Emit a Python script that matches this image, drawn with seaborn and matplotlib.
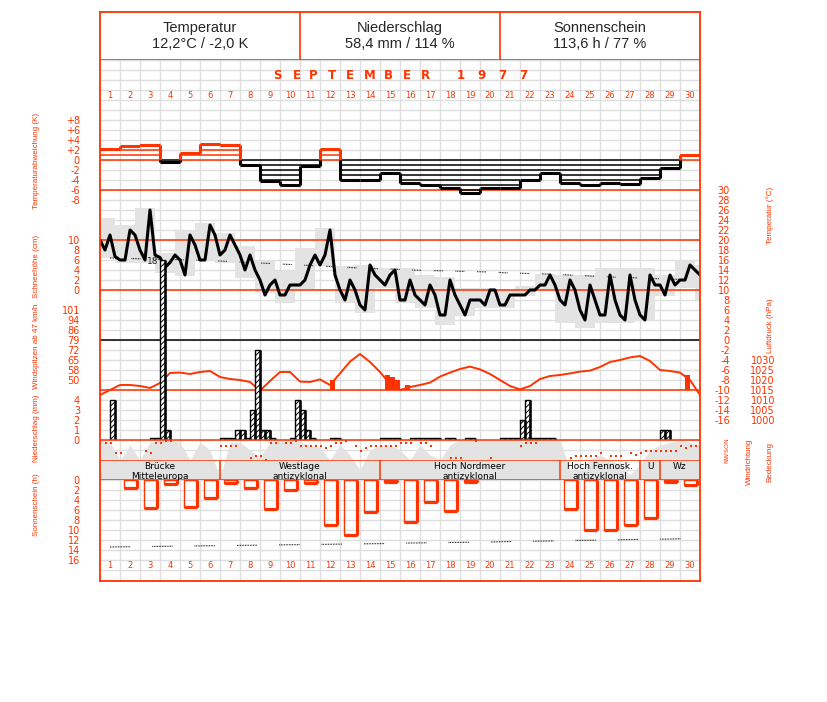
import matplotlib
matplotlib.use("Agg")
import matplotlib.pyplot as plt
import matplotlib.transforms as mtransforms
import seaborn as sns
import numpy as np

sns.set_theme(style="white")
plt.rcParams['font.family'] = ['DejaVu Sans']
plt.rcParams['hatch.linewidth'] = 0.7

RED = '#ff3300'
GRID = '#dedede'
SHADE = '#e3e3e3'
ARIAL = ['Liberation Sans', 'DejaVu Sans']

days = np.arange(1, 31)

# daily temperature anomaly (K)
temp_anom = [2.3, 2.8, 3.1, -0.3, 1.5, 3.3, 3.0, -0.9, -4.2, -5.0,
             -1.1, 2.3, -4.0, -3.9, -2.5, -4.5, -5.1, -5.7, -6.6, -5.6,
             -5.6, -3.9, -2.5, -4.5, -4.9, -4.5, -4.8, -3.5, -1.5, 1.0]

# temperature, four readings per day (deg C)
temp_obs = [20, 18, 21, 16.7, 16, 16, 22, 21, 18, 16,
            26, 17, 16.5, 14.5, 15.5, 17, 16, 13, 21, 19,
            16, 16, 23, 21, 17, 18, 21, 19, 17, 14,
            17, 14, 12, 9, 11, 12, 9, 9, 11, 11,
            11, 12, 15, 17, 15, 17, 22, 13, 10, 8,
            12, 10, 7, 6, 15, 13, 12, 11, 13, 14,
            8, 8, 12, 9, 8, 7, 11, 9, 5, 5,
            12, 9, 7, 5, 8, 8, 8, 7, 10, 10,
            7, 7, 9, 9, 9, 9, 10, 10, 11, 11,
            13, 11, 8, 7, 12, 10, 6, 4, 11, 8,
            5, 5, 13, 8, 5, 4, 13, 8, 5, 4,
            13, 11, 11, 9, 13, 11, 12, 12, 15, 14, 13]

# daily max / min (21h to 21h)
temp_max = [24.3, 23, 26.3, 17.3, 22, 23.3, 21.3, 18.7, 15.7, 13.7, 18.3,
            22.3, 14.7, 15, 14.3, 14.3, 13, 12.5, 10.3, 10.3, 9.7,
            10.8, 13.2, 13, 13, 14.3, 14.3, 14.3, 13, 15.7, 15]
temp_min = [16.3, 15.3, 15.3, 13.3, 12.7, 15.7, 15.3, 12.3, 9.3, 7.3, 10,
            14.7, 7.3, 5.3, 10.3, 7.3, 6.3, 3, 4.7, 6.3, 6.3,
            8.7, 10, 3.3, 2.3, 3.3, 3.3, 3.7, 8.7, 10.3, 8]

# long-term mean temperature
temp_normal = [16.4, 16.3, 16.2, 16.1, 16.0, 15.9, 15.7, 15.5, 15.3, 15.1,
               14.9, 14.7, 14.5, 14.3, 14.2, 14.0, 13.9, 13.8, 13.7, 13.6,
               13.4, 13.3, 13.2, 13.0, 12.8, 12.6, 12.5, 12.3, 12.2, 12.0]

# precipitation per quarter-day slot (mm)
precip_slot = [2, 10, 11, 12, 13, 24, 25, 26, 27, 28, 29, 30, 31, 32, 33, 34,
               38, 39, 40, 41, 42, 46, 47, 56, 57, 58, 59, 62, 63, 64, 65, 66,
               67, 69, 70, 73, 74, 80, 81, 82, 83, 84, 85, 86, 87, 88, 89, 90,
               112, 113]
precip_mm = [4.0, 0.2, 0.2, 18.0, 1.0, 0.2, 0.2, 0.2, 1.0, 1.0, 0.2, 3.0, 9.0, 1.0, 1.0, 0.2,
             0.2, 4.0, 3.0, 1.0, 0.2, 0.2, 0.2, 0.2, 0.2, 0.2, 0.2, 0.2, 0.2, 0.2, 0.2, 0.2,
             0.2, 0.2, 0.2, 0.2, 0.2, 0.2, 0.2, 0.2, 0.2, 2.0, 4.0, 0.2, 0.2, 0.2, 0.2, 0.2,
             1.0, 1.0]

# air pressure, two values per day (hPa)
pressure_hpa = [1012.5, 1015, 1017.5, 1017.5, 1017, 1016, 1018.5, 1023.5, 1023.7, 1023,
                1024, 1024.5, 1021.5, 1020.5, 1020, 1019, 1014.7, 1019.5, 1024, 1024,
                1019.2, 1019, 1020.3, 1017.5, 1023.3, 1029.2, 1033, 1029, 1024, 1018,
                1015, 1016.5, 1017.5, 1018.7, 1021.7, 1023.7, 1025.5, 1026.7, 1025.3, 1023,
                1020, 1017, 1015.3, 1017, 1020.5, 1022, 1022.5, 1023.3, 1024.2, 1024.7,
                1026.5, 1029, 1030, 1031.3, 1032, 1029.5, 1025, 1024.5, 1023.7, 1020,
                1012.5]

# wind gusts above 47 km/h (quarter-day slot)
gust_slot = [46, 57, 58, 59, 61, 117]
gust_kmh = [50, 53.6, 52, 50, 46.4, 53.6]

# wind direction (deg), quarter-day slots, None = no reading
wind_dir = [None, 45, 45, 225, 225, None, None, None, None, 190,
            225, 45, 45, 10, 10, None, None, None, None, None,
            None, None, None, None, 100, 100, 100, 100, None, None,
            315, 280, 280, 360, 45, 45, None, 45, 45, 20,
            100, 100, 100, 100, 100, 140, 100, 45, 45, 10,
            None, 100, 190, 140, 100, 100, 100, 100, 100, 100,
            45, 45, 45, None, 45, 45, 100, None, None, None,
            315, 315, 315, None, None, 10, None, None, 315, None,
            None, None, None, None, 100, 45, 45, 45, None, None,
            None, None, None, None, 315, 280, 280, 280, 280, 280,
            225, None, 280, 280, 280, None, 225, 270, 225, 190,
            190, 190, 190, 190, 190, 190, 100, 140, 100, 100]

# cloud cover (okta), two values per day
cloud_okta = [8, 7.5, 4, 7, 4, 7.5, 8, 8, 7.5, 4,
              7.5, 6, 0.5, 7.5, 7.5, 6, 4.5, 7.5, 8, 8,
              7.5, 7, 6.5, 4, 7, 5, 2, 6, 7, 7,
              6, 4, 7, 5, 4, 7, 8, 8, 8, 8,
              8, 8, 8, 8, 8, 8, 8, 2, 2, 4,
              5, 4, 3, 1, 3, 6, 7, 7.5, 8, 7.5, 7]

# sunshine duration (h) and astronomically possible sunshine
sunshine_h = [0, 1.5, 5.5, 0.8, 5.3, 3.5, 0.5, 1.5, 5.7, 1.9,
              0.5, 9.0, 10.9, 6.3, 0.3, 8.3, 4.3, 6.2, 0.3, 0,
              0, 0, 0, 5.7, 10.0, 9.9, 8.9, 7.6, 0.3, 0.9]
sunshine_max = [13.4, 13.35, 13.3, 13.25, 13.2, 13.15, 13.1, 13.05, 13.0, 12.95,
                12.9, 12.85, 12.8, 12.75, 12.7, 12.6, 12.55, 12.5, 12.45, 12.4,
                12.3, 12.25, 12.2, 12.1, 12.05, 12.0, 11.9, 11.85, 11.8, 11.7]

# Grosswetterlagen
wt_names = ['Brücke\nMitteleuropa', 'Westlage\nantizyklonal', 'Hoch Nordmeer\nantizyklonal',
            'Hoch Fennosk.\nantizyklonal', 'U', 'Wz']
wt_start = [1, 7, 15, 24, 28, 29]
wt_end = [6, 14, 23, 27, 28, 30]

header_titles = ['Temperatur', 'Niederschlag', 'Sonnenschein']
header_values = ['12,2°C / -2,0 K', '58,4 mm / 114 %', '113,6 h / 77 %']

# ---------------------------------------------------------------
W, H = 827, 702
fig = plt.figure(figsize=(W / 100, H / 100), dpi=100)
fig.patch.set_facecolor('white')


def layer(top, bottom, vtop, vbot):
    ax = fig.add_axes([100 / W, 1 - bottom / H, 600 / W, (bottom - top) / H])
    ax.set_xlim(0.5, 30.5)
    ax.set_ylim(vbot, vtop)
    ax.patch.set_visible(False)
    for s in ax.spines.values():
        s.set_visible(False)
    ax.set_xticks([])
    ax.set_yticks([])
    ax.grid(False)
    return ax


def left_ticks(ax, vals, labels):
    ax.set_yticks(vals, labels)
    ax.tick_params(axis='y', left=False, labelleft=True, pad=14.4,
                   labelsize=7, labelcolor=RED, length=0)


def right_ticks(ax, vals, labels, pad_px, ha='right', size=7, rot=0):
    ax.set_yticks(vals, labels)
    ax.tick_params(axis='y', left=False, labelleft=False, right=False, labelright=True,
                   pad=pad_px * 0.72, labelsize=size, labelcolor=RED, length=0,
                   labelrotation=rot)
    for t in ax.get_yticklabels():
        t.set_horizontalalignment(ha)


def fy(py):
    return 1 - py / H


# background grid
bg = layer(60, 580, 52, 0)
bg.hlines(np.arange(53), 0.5, 30.5, color=GRID, lw=1, zorder=0)
bg.vlines(np.arange(0.5, 31), 0, 52, color=GRID, lw=1, zorder=0)

# header
hd = layer(12, 60, 1, 0)
hd.axvline(10.5, color=RED, lw=1.2)
hd.axvline(20.5, color=RED, lw=1.2)
hd.axhline(0, color=RED, lw=1.2)
for k in range(3):
    hd.text(5.5 + 10 * k, 0.5, header_titles[k] + '\n' + header_values[k],
            ha='center', va='center', fontsize=10.5, family=ARIAL, linespacing=1.15)

# temperature (right axis), snow scale, normals
tp = layer(180, 440, 32, -20)
tmax = np.array(temp_max)
tmin = np.array(temp_min)
tp.bar(np.arange(31) + 0.75, tmax - tmin, bottom=tmin, width=1.0, color=SHADE, lw=0, zorder=1)
tp.plot(days, temp_normal, color='black', lw=0.8, zorder=2,
        ls=(0, [0.7, 0.75] * 5 + [0.7, 11.5]))
for lvl in [30, 20, 10, -10]:
    tp.axhline(lvl, color=RED, lw=1.1, zorder=2.5)
tp.axhline(0, color='black', lw=1.1, zorder=2.5)
t_x = 0.5 + 0.25 * np.arange(len(temp_obs))
sns.lineplot(x=t_x, y=temp_obs, ax=tp, color='black', lw=2.2, estimator=None, zorder=3)
right_ticks(tp, list(range(30, -17, -2)), [str(v) for v in range(30, -17, -2)], 30)
tp.set_ylim(-20, 32)
tp.set_xlim(0.5, 30.5)
tp.set_xlabel('')
tp.set_ylabel('')

sn = layer(230, 290, 12, 0)
left_ticks(sn, [10, 8, 6, 4, 2, 0], ['10', '8', '6', '4', '2', '0'])

# temperature anomaly
an = layer(110, 200, 10, -8)
anom = np.array(temp_anom)
for d, v in zip(days, anom):
    col = RED if v > 0 else 'black'
    lv = np.sign(v) * np.arange(0, int(np.floor(abs(v))) + 1)
    an.hlines(lv, d - 0.5, d + 0.5, color=col, lw=1.1)
    an.hlines(v, d - 0.5, d + 0.5, color=col, lw=2.2)
for i in range(1, 30):
    a, b = anom[i - 1], anom[i]
    lo, hi = min(a, b), max(a, b)
    if hi > 0:
        an.vlines(i + 0.5, max(lo, 0), hi, color=RED, lw=2.2)
    if lo < 0:
        an.vlines(i + 0.5, lo, min(hi, 0), color='black', lw=2.2)
left_ticks(an, [8, 6, 4, 2, 0, -2, -4, -6, -8],
           ['+8', '+6', '+4', '+2', '0', '-2', '-4', '-6', '-8'])

# pressure
pr = layer(340, 440, 1040, 990)
p_x = 0.5 + 0.5 * np.arange(len(pressure_hpa))
sns.lineplot(x=p_x, y=pressure_hpa, ax=pr, color=RED, lw=1.4, estimator=None)
pr.set_ylim(990, 1040)
pr.set_xlim(0.5, 30.5)
pr.set_xlabel('')
pr.set_ylabel('')
right_ticks(pr, [1030, 1025, 1020, 1015, 1010, 1005, 1000],
            ['1030', '1025', '1020', '1015', '1010', '1005', '1000'], 75)

# wind gusts
g_lo = 50 - 10 * 51 / 70
gs = layer(300, 390, 50 + 80 * 51 / 70, g_lo)
g_x = 0.5 + 0.25 * np.array(gust_slot) + 0.125
gs.bar(g_x, np.array(gust_kmh) - g_lo, bottom=g_lo, width=0.27, color=RED, lw=0)
left_ticks(gs, np.linspace(50, 101, 8), ['50', '58', '65', '72', '79', '86', '94', '101'])

# precipitation
pc = layer(250, 440, 19, 0)
pcx = 0.5 + 0.25 * np.array(precip_slot) + 0.125
pc.bar(pcx, precip_mm, width=0.28, color='white', edgecolor='black', hatch='//////', lw=1.0)
pc.vlines(pcx + 0.13, 0, precip_mm, color='black', lw=1.8)
imax = int(np.argmax(precip_mm))
pc.annotate(f'{precip_mm[imax]:.0f}', xy=(pcx[imax] - 0.14, precip_mm[imax]), xytext=(-1, -1),
            textcoords='offset points', ha='right', va='center', fontsize=6.5)
pc.axhline(0, color=RED, lw=1.1)
left_ticks(pc, [4, 3, 2, 1, 0], ['4', '3', '2', '1', '0'])

# cloud cover
cl = layer(440, 480, 8, 0)
c_x = 0.5 + 0.5 * np.arange(len(cloud_okta))
cl.fill_between(c_x, 0, cloud_okta, color=SHADE, lw=0)

# wind direction
wd = layer(440, 460, 0, 360)
w_x = 0.5 + 0.25 * np.arange(len(wind_dir)) + 0.06
w_y = np.array([np.nan if v is None else v for v in wind_dir], dtype=float)
wd.plot(w_x, w_y, ls='none', marker='s', ms=1.9, color=RED, mec=RED, mew=0)
wd.axhline(0, color=RED, lw=1.1)
right_ticks(wd, [0, 90, 180, 270, 360], ['N', 'O', 'S', 'W', 'N'], 27, ha='center', size=4.5, rot=90)

# weather types
wt = layer(460, 480, 1, 0)
wt.axhline(1, color=RED, lw=1.1)
wt.axhline(0, color=RED, lw=1.1)
for name, s, e in zip(wt_names, wt_start, wt_end):
    if s > 1:
        wt.axvline(s - 0.5, color=RED, lw=1.1)
    wt.text((s + e) / 2, 0.88, name, ha='center', va='top', fontsize=6.5,
            linespacing=1.05, color='black')

# sunshine
su = layer(480, 570, 0, 18)
sun = np.array(sunshine_h)
has = sun > 0
su.bar(days[has], sun[has], width=0.65, fill=False, edgecolor=RED, lw=1.0)
su.vlines(days[has] + 0.325, 0, sun[has], color=RED, lw=2.3)
su.hlines(sun[has], days[has] - 0.325, days[has] + 0.325, color=RED, lw=2.3)
su.plot(days, sunshine_max, color='black', lw=0.8, ls=(0, [0.7, 0.75] * 12 + [0.7, 20]))
left_ticks(su, list(range(0, 17, 2)), [str(v) for v in range(0, 17, 2)])

# outer frame
fr = fig.add_axes([100 / W, 1 - 581 / H, 600 / W, 569 / H])
fr.patch.set_visible(False)
fr.set_xticks([])
fr.set_yticks([])
for s in fr.spines.values():
    s.set_color(RED)
    s.set_linewidth(1.3)

# title letters
title_chars = 'SEPTEMBER1977'
title_x = [277.7, 296.7, 313.3, 331.7, 350, 370, 388.3, 406.7, 425, 460.7, 481.7, 502.3, 523.3]
for ch, xp in zip(title_chars, title_x):
    fig.text(xp / W, fy(75.5), ch, ha='center', va='center', color=RED,
             fontsize=8.5, fontweight='bold')

# day numbers
trans = mtransforms.blended_transform_factory(bg.transData, fig.transFigure)
for d in days:
    for yy in (95, 566):
        fig.text(d, fy(yy), str(d), transform=trans, ha='center', va='center',
                 color=RED, fontsize=6)

# axis titles
left_titles = [('Temperaturabweichung (K)', 161), ('Schneehöhe (cm)', 266),
               ('Windspitzen ab 47 km/h', 346), ('Niederschlag (mm)', 428),
               ('Sonnenschein (h)', 505)]
for txt, yy in left_titles:
    fig.text(37 / W, fy(yy), txt, rotation=90, ha='center', va='center',
             color=RED, fontsize=5.8, family=ARIAL)
right_titles = [('Temperatur (°C)', 770, 215), ('Luftdruck (hPa)', 770, 326),
                ('Windrichtung', 749, 462), ('Bedeckung', 770, 462)]
for txt, xx, yy in right_titles:
    fig.text(xx / W, fy(yy), txt, rotation=90, ha='center', va='center',
             color=RED, fontsize=5.8, family=ARIAL)

fig.savefig('out.png', dpi=100)
